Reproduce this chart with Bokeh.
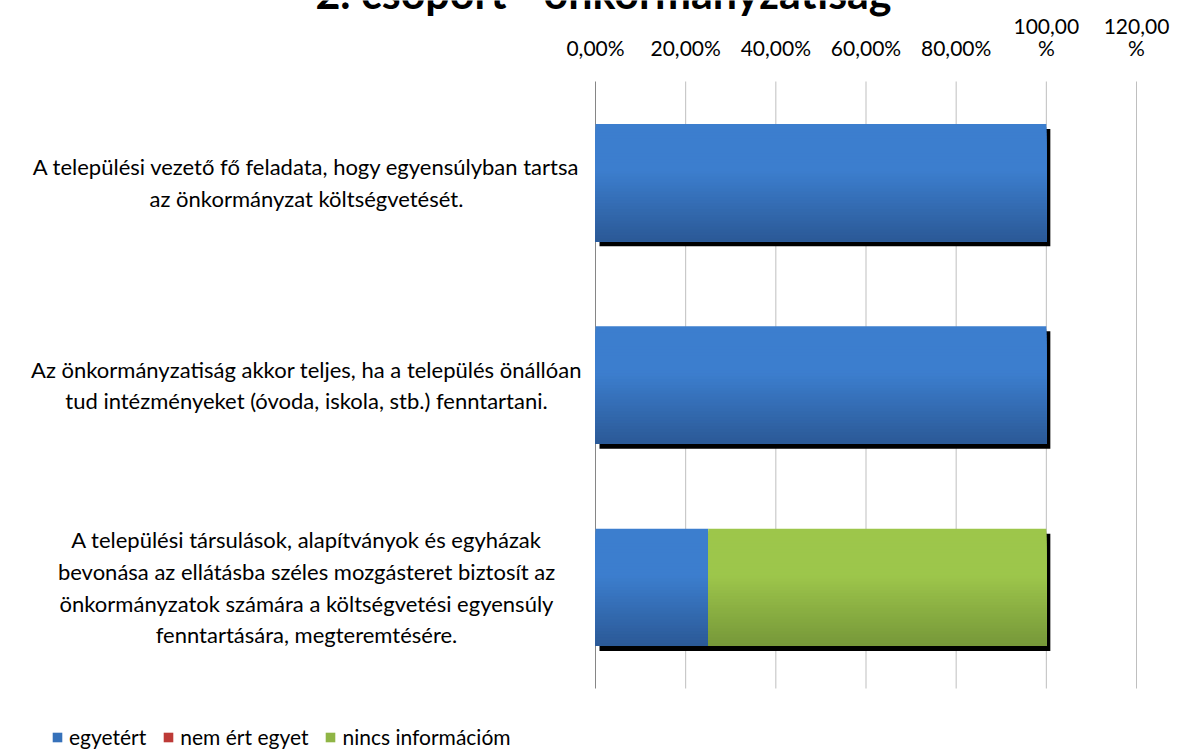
from bokeh.plotting import figure
from bokeh.models import ColumnDataSource, Range1d, Label, Legend, LegendItem
from bokeh.core.properties import value
from bokeh.embed import file_html
from bokeh.resources import INLINE

# ---------------- data ----------------
title_text = "2. csoport - önkormányzatiság"
categories = [
    "A települési vezető fő feladata, hogy egyensúlyban tartsa\naz önkormányzat költségvetését.",
    "Az önkormányzatiság akkor teljes, ha a település önállóan\ntud intézményeket (óvoda, iskola, stb.) fenntartani.",
    "A települési társulások, alapítványok és egyházak\nbevonása az ellátásba széles mozgásteret biztosít az\n"
    "önkormányzatok számára a költségvetési egyensúly\nfenntartására, megteremtésére.",
]
series_names = ["egyetért", "nem ért egyet", "nincs információm"]
egyetert = [1.0, 1.0, 0.25]
nem_ert_egyet = [0.0, 0.0, 0.0]
nincs_informacio = [0.0, 0.0, 0.75]
tick_values = [0, 0.2, 0.4, 0.6, 0.8, 1.0, 1.2]
tick_labels = ["0,00%", "20,00%", "40,00%", "60,00%", "80,00%", "100,00\n%", "120,00\n%"]

# ---------------- styles / layout ----------------
FONT = "Lato"
W, H = 1178, 749
FL, FR, FT, FB = 595, 1136, 81, 688      # plot area in canvas pixels
XMAX = 1.2
n = len(categories)
PXU = (FR - FL) / XMAX
PYU = (FB - FT) / n
series_colors = [
    ((60, 126, 206), (43, 89, 150)),
    ((208, 64, 61), (155, 46, 44)),
    ((157, 198, 75), (118, 151, 57)),
]
HALF = 0.29
NSTRIP = 40

def grad(ctop, cbot, t):
    f = 0.0 if t < 0.4 else (t - 0.4) / 0.6
    c = tuple(int(round(a + (b - a) * f)) for a, b in zip(ctop, cbot))
    return "#%02x%02x%02x" % c

ypos = [n - 0.5 - i for i in range(n)]
series = [egyetert, nem_ert_egyet, nincs_informacio]

p = figure(width=W, height=H,
           x_range=Range1d(-FL / PXU, XMAX + (W - FR) / PXU),
           y_range=Range1d(-(H - FB) / PYU, n + FT / PYU),
           x_axis_location=None, y_axis_location=None,
           output_backend="svg", toolbar_location=None,
           min_border_left=0, min_border_right=0, min_border_top=0, min_border_bottom=0)
p.outline_line_color = None
p.grid.visible = False

# vertical grid lines and value axis line
p.segment(x0=tick_values[1:], x1=tick_values[1:], y0=[0] * (len(tick_values) - 1),
          y1=[n] * (len(tick_values) - 1), line_color="#bfbfbf", line_width=1)
p.segment(x0=[0], x1=[0], y0=[0], y1=[n], line_color="#868686", line_width=1)

# top axis tick labels
p.text(x=tick_values, y=[n] * len(tick_values), text=tick_labels, y_offset=-22,
       text_align="center", text_baseline="bottom", text_font=value(FONT),
       text_font_size="21px", text_line_height=0.88, text_color="#000000")

# shadow
dx = 4 / PXU
dy = 5 / PYU
totals = [sum(s[i] for s in series) for i in range(n)]
shadow = ColumnDataSource(dict(
    left=[dx] * n, right=[t + dx for t in totals],
    top=[y + HALF - dy for y in ypos], bottom=[y - HALF - dy for y in ypos]))
p.quad(left="left", right="right", top="top", bottom="bottom", source=shadow,
       fill_color="black", line_color=None)

items = []
cum = [0.0] * n
for si, (vals, name) in enumerate(zip(series, series_names)):
    d = dict(left=[], right=[], top=[], bottom=[], color=[])
    for k in range(NSTRIP):
        t0 = k / NSTRIP
        for i in range(n):
            d["left"].append(cum[i])
            d["right"].append(cum[i] + vals[i])
            d["top"].append(ypos[i] + HALF - 2 * HALF * t0)
            d["bottom"].append(ypos[i] - HALF)
            d["color"].append(grad(*series_colors[si], t0 + 0.5 / NSTRIP))
    for i in range(n):
        cum[i] += vals[i]
    rr = p.quad(left="left", right="right", top="top", bottom="bottom",
                source=ColumnDataSource(d), fill_color="color", line_color=None)
    items.append(LegendItem(label=name, renderers=[rr], index=int(NSTRIP * 0.6) * n))

legend = Legend(items=items, orientation="horizontal", location=(51, 0),
                glyph_width=12, glyph_height=12, label_standoff=6, spacing=16,
                padding=0, margin=0, border_line_color=None, background_fill_alpha=0,
                label_text_font=FONT, label_text_font_size="21px", label_text_color="#000000")
p.add_layout(legend, "center")

for cat, y in zip(categories, ypos):
    p.add_layout(Label(x=306, y=y, x_units="screen", y_units="data", text=cat,
                       text_align="center", text_baseline="middle", text_font=FONT,
                       text_font_size="22px", text_line_height=1.17, text_color="#000000"))

p.add_layout(Label(x=603, y=H + 8, x_units="screen", y_units="screen", text=title_text,
                   text_align="center", text_baseline="alphabetic", text_font=FONT,
                   text_font_style="bold", text_font_size="43px", text_color="#000000"))

open("out.html", "w").write(file_html(p, INLINE))
